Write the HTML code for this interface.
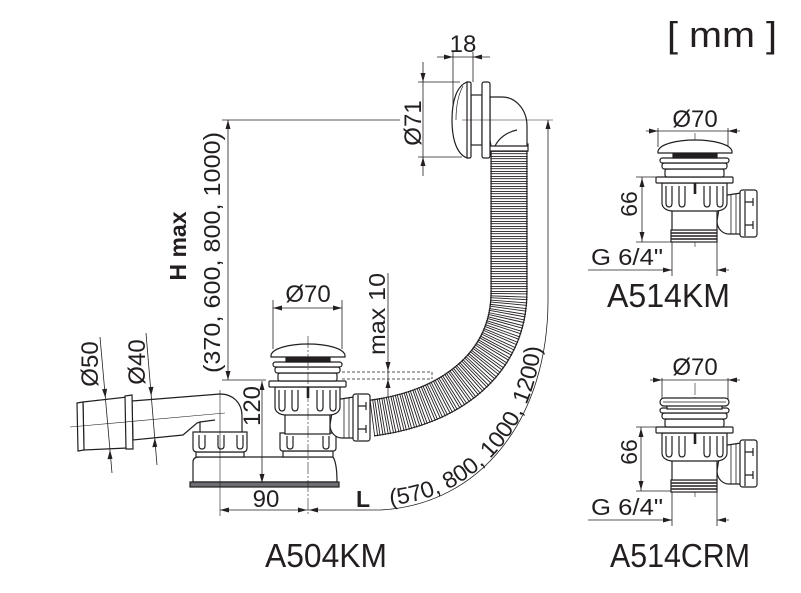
<!DOCTYPE html>
<html><head><meta charset="utf-8">
<style>
html,body{margin:0;padding:0;background:#fff;width:801px;height:593px;overflow:hidden}
svg{display:block}
text{font-family:"Liberation Sans",sans-serif;fill:#231f20}
</style></head><body>
<svg width="801" height="593" viewBox="0 0 801 593" xmlns="http://www.w3.org/2000/svg">
<defs>
<g id="head" stroke="#231f20" stroke-width="1.2" fill="#fff">
 <path d="M26,19 L46,16 L46,57 L34,57 C28,57 22,52 22,44 Z"/>
 <path d="M36,17.5 L36,57 M41,17 L41,57" fill="none" stroke-width="0.8"/>
 <rect x="45" y="13" width="17" height="47" rx="2.5"/>
 <path d="M50,14 L50,59 M50,25 L58,25 M50,48 L58,48 M58,21 L58,29 M58,44 L58,52" fill="none"/>
 <rect x="-23" y="30" width="45" height="23"/>
 <path d="M-33,6 L32,6 L32,26 C32,31 27,34 21,34 L-22,34 C-28,34 -33,31 -33,26 Z"/>
 <path fill="none" d="M-29,9 L-29,26 Q-29,30 -26,30 Q-23,30 -23,26 L-23,9 M-16,9 L-16,26 Q-16,30 -13,30 Q-10,30 -10,26 L-10,9 M9,9 L9,26 Q9,30 12,30 Q15,30 15,26 L15,9 M22,9 L22,26 Q22,30 25,30 Q28,30 28,26 L28,9"/>
 <rect x="-39" y="0" width="77" height="6" rx="1"/>
 <rect x="-30" y="-8" width="59" height="8" rx="2"/>
 <rect x="-33" y="-14" width="65" height="6" rx="2.5"/>
 <rect x="-35" y="-19" width="69" height="5" rx="2.5"/>
 <path d="M0,6 L0,17" stroke-width="2.6"/>
</g>
<g id="dome" stroke="#231f20" stroke-width="1.2">
 <rect x="-22" y="-25" width="44" height="6" fill="#231f20"/>
 <path fill="#fff" d="M-37,-26 C-35,-33 -18,-37 0,-37 C18,-37 35,-33 37,-26 L37,-24 L-37,-24 Z"/>
</g>
<g id="thread" stroke="#231f20" fill="#fff">
 <rect x="-24" y="53" width="46" height="12" stroke-width="1.2"/>
 <path d="M-24,56 L22,56 M-24,59 L22,59 M-24,62 L22,62" stroke-width="1.4"/>
</g>
</defs>

<!-- [ mm ] -->
<text x="667" y="47" font-size="36" textLength="110" lengthAdjust="spacingAndGlyphs">[ mm ]</text>

<!-- ============ MAIN ASSEMBLY ============ -->
<g stroke="#231f20" stroke-width="0.8" fill="none" stroke-dasharray="3 2">
 <path d="M342,372 L432,372 M342,379 L432,379 M432,372 L432,379"/>
</g>

<g stroke="#231f20" stroke-width="1.2" fill="#fff">
 <path d="M193,482 L193,462 Q193,457 199,457 L333,457 Q337,463 337,482 Z"/>
 <rect x="190" y="482" width="149" height="5" fill="#6d6e71"/>
 <path d="M132,401 L220,394 C233,394 242,403 242,416 L242,434 L200,434 L200,422 L197,423 L183,435 L133,440 Z"/>
 <path d="M200,422 L215,420" fill="none"/>
 <path d="M83,402 L127,397 L127,448 L84,450 Z"/>
 <path d="M125,396 L132,395 L133,449 L126,449 Z"/>
 <path d="M77,403 L83,402 L84,450 L78,451 Z"/>
 <rect x="196" y="452" width="48" height="5"/>
 <path d="M193,432 L247,432 L247,448 Q247,452 243,452 L197,452 Q193,452 193,448 Z"/>
 <path fill="none" d="M199,435 L199,446 Q199,449 202,449 Q205,449 205,446 L205,435 M218,435 L218,446 Q218,449 221,449 Q224,449 224,446 L224,435 M237,435 L237,446 Q237,449 240,449 Q243,449 243,446 L243,435"/>
 <rect x="283" y="451" width="50" height="6"/>
 <path d="M280,433 L336,433 L336,448 Q336,451 333,451 L283,451 Q280,451 280,448 Z"/>
 <path fill="none" d="M287,436 L287,446 Q287,449 290,449 Q293,449 293,446 L293,436 M323,436 L323,446 Q323,449 326,449 Q329,449 329,446 L329,436"/>
</g>
<path d="M70,427 L225,413" stroke="#231f20" stroke-width="0.6"/>

<!-- hose -->
<g fill="none">
 <path d="M509,146 L509,292 C509,362 452,408 372,418" stroke="#231f20" stroke-width="37"/>
 <path d="M509,146 L509,292 C509,362 452,408 372,418" stroke="#fff" stroke-width="34.6"/>
 <path d="M509,146 L509,292 C509,362 452,408 372,418" stroke="#231f20" stroke-width="37.5" stroke-dasharray="0.9 1.3 0.9 1.9"/>
</g>

<use href="#head" transform="translate(308,381)"/>
<use href="#dome" transform="translate(308,381)"/>

<!-- wall outlet -->
<g stroke="#231f20" stroke-width="1.2" fill="#fff">
 <rect x="489" y="144" width="39" height="7"/>
 <path d="M490,97 L502,97 C516,97 527,110 527,126 L527,146 L491,146 L490,140 Z"/>
 <path d="M495,146 C499,138 507,132 517,130" fill="none"/>
 <rect x="471" y="95" width="11" height="50"/>
 <rect x="482" y="82" width="8" height="76" rx="2"/>
 <rect x="466" y="82" width="5" height="76" rx="1.5"/>
 <path d="M467,82 C457,86 452,100 452,120 C452,140 457,154 467,158 Z"/>
 <path d="M463,86 C458,95 456,108 456,120" fill="none" stroke-width="0.7"/>
</g>

<!-- center lines -->
<g stroke="#231f20" stroke-width="0.6" fill="none">
 <path d="M308,336 L308,516" stroke-dasharray="12 2 2 2"/>
 <path d="M220,390 L220,516"/>
 <path d="M462,120 L553,120"/>
 <path d="M695,133 L695,247" stroke-dasharray="12 2 2 2"/>
 <path d="M695,383 L695,497" stroke-dasharray="12 2 2 2"/>
</g>

<!-- dimension lines -->
<g stroke="#231f20" stroke-width="0.8" fill="none">
 <path d="M273,300 L273,349 M342,300 L342,349 M273,308 L342,308"/>
 <path d="M437,57 L490,57 M453,52 L453,107 M473,52 L473,82"/>
 <path d="M423,62 L423,176 M418,82 L460,82 M418,157 L462,157"/>
 <path d="M228,120 L228,380 M222,120 L400,120 M222,380 L266,380"/>
 <path d="M262,381 L262,483"/>
 <path d="M220,510 L308,510"/>
 <path d="M308,510 L380,510 C480,505 548,420 548,300 L548,120"/>
 <path d="M388,273 L388,397"/>
 <path d="M100,337 L112,473 M146,333 L157,465"/>
 <path d="M646,131 L740,131 M658,128 L658,147 M728,128 L728,147"/>
 <path d="M642,177 L642,242 M636,177 L656,177 M636,242 L671,242"/>
 <path d="M588,270 L672,270 M717,270 L729,270 M672,242 L672,276 M717,242 L717,276"/>
 <path d="M650,380 L740,380 M662,378 L662,400 M728,378 L728,400"/>
 <path d="M641,427 L641,491 M636,427 L657,427 M636,491 L671,491"/>
 <path d="M588,520 L672,520 M717,520 L729,520 M672,491 L672,526 M717,491 L717,526"/>
</g>

<!-- arrowheads -->
<g fill="#231f20">
 <polygon points="273,308 282,305.5 282,310.5"/>
 <polygon points="342,308 333,305.5 333,310.5"/>
 <polygon points="453,57 444,54.5 444,59.5"/>
 <polygon points="473,57 482,54.5 482,59.5"/>
 <polygon points="423,82 420.5,73 425.5,73"/>
 <polygon points="423,157 420.5,166 425.5,166"/>
 <polygon points="228,120 225.5,129 230.5,129"/>
 <polygon points="228,380 225.5,371 230.5,371"/>
 <polygon points="262,381 259.5,390 264.5,390"/>
 <polygon points="262,483 259.5,474 264.5,474"/>
 <polygon points="220,510 229,507.5 229,512.5"/>
 <polygon points="307,510 298,507.5 298,512.5"/>
 <polygon points="309,510 318,507.5 318,512.5"/>
 <polygon points="548,120 545.5,129 550.5,129"/>
 <polygon points="388,371 385.5,362 390.5,362"/>
 <polygon points="388,379 385.5,388 390.5,388"/>
 <polygon points="105.4,398 107.1,388.8 102.1,389.2"/>
 <polygon points="110,450 112.5,458.8 107.5,459.2"/>
 <polygon points="151.2,396 153.5,386.8 148.5,387.2"/>
 <polygon points="154.8,438 157.3,446.8 152.3,447.2"/>
 <polygon points="658,131 649,128.5 649,133.5"/>
 <polygon points="728,131 737,128.5 737,133.5"/>
 <polygon points="642,178 639.5,187 644.5,187"/>
 <polygon points="642,241 639.5,232 644.5,232"/>
 <polygon points="672,270 663,267.5 663,272.5"/>
 <polygon points="717,270 726,267.5 726,272.5"/>
 <polygon points="662,380 653,377.5 653,382.5"/>
 <polygon points="728,380 737,377.5 737,382.5"/>
 <polygon points="641,428 638.5,437 643.5,437"/>
 <polygon points="641,490 638.5,481 643.5,481"/>
 <polygon points="672,520 663,517.5 663,522.5"/>
 <polygon points="717,520 726,517.5 726,522.5"/>
</g>

<!-- A514KM -->
<use href="#thread" transform="translate(695,177)"/>
<use href="#head" transform="translate(695,177)"/>
<use href="#dome" transform="translate(695,177)"/>

<!-- A514CRM -->
<use href="#thread" transform="translate(695,427)"/>
<use href="#head" transform="translate(695,427)"/>
<g transform="translate(695,427)" stroke="#231f20" stroke-width="1.2" fill="#fff">
 <rect x="-28" y="-22" width="55" height="4"/>
 <rect x="-35" y="-29" width="69" height="8" rx="4"/>
 <path d="M-32,-25 L31,-25" fill="none" stroke-width="0.7"/>
</g>

<!-- TEXT -->
<text x="308" y="302" font-size="24" text-anchor="middle">Ø70</text>
<text x="695" y="127" font-size="24" text-anchor="middle">Ø70</text>
<text x="695" y="375" font-size="24" text-anchor="middle">Ø70</text>
<text x="463" y="52" font-size="24" text-anchor="middle">18</text>
<text transform="translate(421,123) rotate(-90)" font-size="24" text-anchor="middle">Ø71</text>
<text transform="translate(186,246) rotate(-90)" font-size="23" font-weight="bold" text-anchor="middle">H max</text>
<text transform="translate(220,373) rotate(-90)" font-size="23" textLength="241" lengthAdjust="spacingAndGlyphs">(370, 600, 800, 1000)</text>
<text transform="translate(385,355) rotate(-90)" font-size="23" textLength="82" lengthAdjust="spacingAndGlyphs">max 10</text>
<text transform="translate(260,406) rotate(-90)" font-size="24" text-anchor="middle">120</text>
<text transform="translate(98,364) rotate(-90)" font-size="24" text-anchor="middle">Ø50</text>
<text transform="translate(145,362) rotate(-90)" font-size="24" text-anchor="middle">Ø40</text>
<text x="266" y="507" font-size="24" text-anchor="middle">90</text>
<text x="356" y="507" font-size="23" font-weight="bold">L</text>
<path id="lp" d="M390,505 C478,499 541,421 541,333" fill="none"/>
<text font-size="23"><textPath href="#lp" textLength="238" lengthAdjust="spacingAndGlyphs">(570, 800, 1000, 1200)</textPath></text>
<text transform="translate(637,204) rotate(-90)" font-size="23" text-anchor="middle">66</text>
<text transform="translate(637,452) rotate(-90)" font-size="23" text-anchor="middle">66</text>
<text x="591" y="265" font-size="23" textLength="72" lengthAdjust="spacingAndGlyphs">G 6/4"</text>
<text x="591" y="515" font-size="23" textLength="72" lengthAdjust="spacingAndGlyphs">G 6/4"</text>
<text x="607" y="307" font-size="33" textLength="123" lengthAdjust="spacingAndGlyphs">A514KM</text>
<text x="265" y="567" font-size="33" textLength="122" lengthAdjust="spacingAndGlyphs">A504KM</text>
<text x="610" y="567" font-size="33" textLength="140" lengthAdjust="spacingAndGlyphs">A514CRM</text>
</svg>
</body></html>
